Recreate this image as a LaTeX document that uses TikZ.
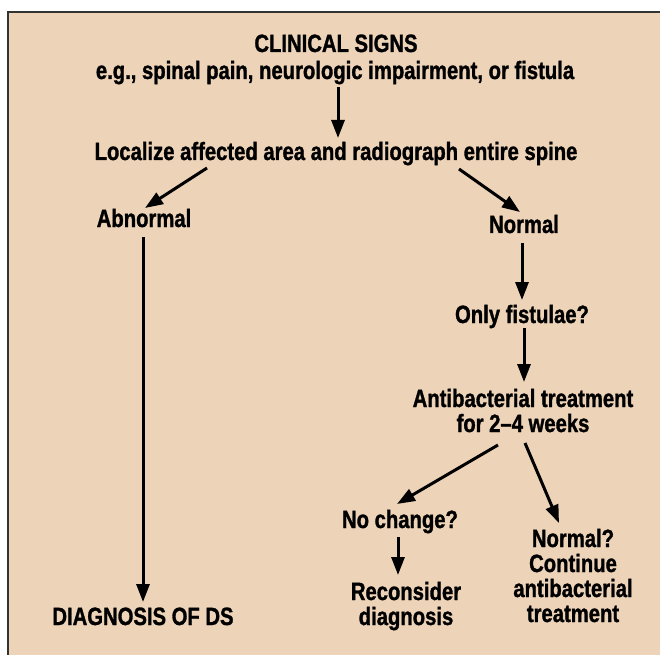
\documentclass[tikz,border=0pt]{standalone}
\usepackage{fontspec}
\setmainfont{Liberation Sans}[FakeStretch=0.81, BoldFeatures={FakeBold=1.2}]
\usetikzlibrary{arrows.meta,calc}
\definecolor{bgtan}{RGB}{237,211,184}
\begin{document}
\begin{tikzpicture}[x=1pt,y=-1pt,
  lbl/.style={inner sep=0pt, anchor=base, font=\fontsize{25}{25}\selectfont\bfseries, align=center},
  arr/.style={-{Triangle[length=18pt,width=13pt]}, line width=3pt}]
\useasboundingbox (0,0) rectangle (661,655);
\fill[bgtan] (8,12) rectangle (659.5,655);
\draw[line width=1.3pt, black!80] (8,655) -- (8,12) -- (659.5,12);

\node[lbl] (cs) at (336,52) {CLINICAL SIGNS};
\node[lbl] (eg) at (335,79) {e.g., spinal pain, neurologic impairment, or fistula};
\node[lbl] (loc) at (336,160) {Localize affected area and radiograph entire spine};
\node[lbl] (abn) at (144,227) {Abnormal};
\node[lbl] (nor) at (524,233) {Normal};
\node[lbl] (fis) at (522,323) {Only fistulae?};
\node[lbl] (anti) at (523,432) {Antibacterial treatment\\for 2--4 weeks};
\node[lbl] (noch) at (400,528) {No change?};
\node[lbl] (recon) at (406,625) {Reconsider\\diagnosis};
\node[lbl] (cont) at (573,622) {Normal?\\Continue\\antibacterial\\treatment};
\node[lbl] (dds) at (143,625) {DIAGNOSIS OF DS};

\draw[arr] ($(eg.base)+(3,8)$) -- ($(loc.base)+(2,-22)$);
\draw[arr] ($(loc.base)+(-129,8)$) -- ($(abn.base)+(1,-19)$);
\draw[arr] ($(loc.base)+(123,9)$) -- ($(nor.base)+(-4,-21)$);
\draw[arr] ($(abn.base)+(-1,10)$) -- ($(dds.base)+(0,-23)$);
\draw[arr] ($(nor.base)+(-2,10)$) -- ($(fis.base)+(0,-23)$);
\draw[arr] ($(fis.base)+(2,5)$) -- ($(anti.base)+(1,-50)$);
\draw[arr] ($(anti.base)+(-25,13)$) -- ($(noch.base)+(-3,-24)$);
\draw[arr] ($(anti.base)+(2,11)$) -- ($(cont.base)+(-14,-99)$);
\draw[arr] ($(noch.base)+(-2,9)$) -- ($(recon.base)+(-8,-50)$);
\end{tikzpicture}
\end{document}
